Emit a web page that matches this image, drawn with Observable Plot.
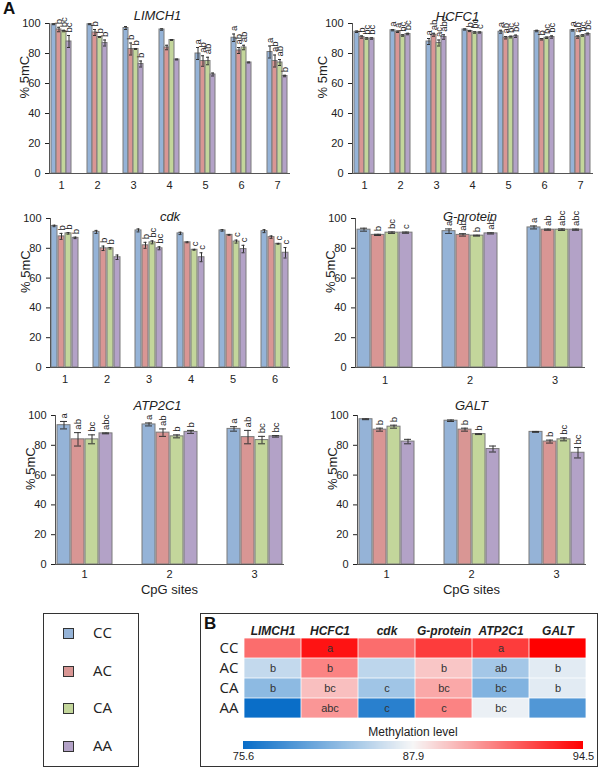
<!DOCTYPE html>
<html><head><meta charset="utf-8">
<script src="https://cdn.jsdelivr.net/npm/d3@7"></script>
<script src="https://cdn.jsdelivr.net/npm/@observablehq/plot@0.6"></script>
<style>
body{margin:0;background:#fff;font-family:"Liberation Sans",Arial,sans-serif;}
#root{position:relative;width:603px;height:769px;overflow:hidden;background:#fff;}
#root svg .tick line, #root svg .domain{display:none;}
.lab{position:absolute;color:#111;}
</style></head><body><div id="root"></div>
<script>
const genotypes = ["CC","AC","CA","AA"];
const genoColors = ["#95b3d7","#d99694","#c3d69b","#b3a2c7"];
const genes = ["LIMCH1","HCFC1","cdk","G-protein","ATP2C1","GALT"];

// LIMCH1 (7 CpG sites) values per site: CC, AC, CA, AA
const limch1Mean = [[99.5,96,95,88],[99.5,94,91,87],[97,83,83,73],[96,84,89,76],[80,75,75,66],[90.5,82,84,74],[81,75,74,65]];
const limch1Err  = [[0.3,1.5,0.5,4],[0.3,2,0.3,2],[1,4,0.3,2],[0.5,1.5,0.3,0.3],[4,3.5,2.5,1],[2.5,2,1.5,0.3],[4,4,2,0.5]];
const limch1Sig  = [["","b","bc","bc"],["","b","b","b"],["","b","b","b"],["","","",""],["a","ab","ab",""],["a","ab","ab",""],["a","ab","ab","b"]];

const hcfc1Mean = [[94.5,91,90,90],[95.5,94.5,92,93],[88,92.5,87,91],[96,95,94,94],[94.5,90.5,91,91.5],[95,89.5,90.5,91],[95.5,91,92,93]];
const hcfc1Err  = [[0.5,0.8,0.5,0.5],[0.4,0.5,0.5,0.5],[2,1,2,1.5],[0.4,0.4,0.5,0.4],[1,0.8,0.6,0.8],[0.5,0.5,0.5,0.8],[0.5,0.8,0.5,0.6]];
const hcfc1Sig  = [["","b","bc","bc"],["a","a","bc","bc"],["a","ab","ac","abc"],["","b","bc","c"],["a","ab","bc","bc"],["","b","bc","bc"],["a","ab","bc","bc"]];

const cdkMean = [[95,88,90,87],[91,80,80,74],[92,82,84,80],[90,84,79,74],[92,89,84.5,79.5],[91.5,87.5,83,77]];
const cdkErr  = [[0.5,2,0.5,0.5],[1,1.5,0.5,1.5],[1,2,1,1],[0.8,0.3,0.3,3],[0.5,0.3,1,2.5],[1,0.8,0.3,3.5]];
const cdkSig  = [["","b","b","b"],["","b","b",""],["","b","bc","bc"],["","","c","c"],["","","c","c"],["","","c","c"]];

const gprotMean = [[92.5,89,90.5,90.5],[91.5,89,88.5,90],[94,92.5,92.5,92.5]];
const gprotErr  = [[1,0.4,0.5,0.4],[1.5,0.8,0.3,0.4],[1,0.4,0.5,0.4]];
const gprotSig  = [["","b","bc","c"],["a","ab","b","ab"],["a","ab","abc","abc"]];

const atpMean = [[93.5,84,84,88],[94,88.5,86,89],[91,85.5,83.5,86]];
const atpErr  = [[2.5,4.5,3,0.3],[1,2.5,1,1],[1.5,4.5,2.5,0.5]];
const atpSig  = [["a","ab","bc","abc"],["a","ab","b","b"],["a","ab","bc","bc"]];

const galtMean = [[97.5,90.5,92.5,82.5],[96.5,90.5,87.5,77.5],[89,82.5,84,75]];
const galtErr  = [[0.3,1,1,1.5],[0.5,1,0.3,2],[0.3,1,1,3.5]];
const galtSig  = [["","b","b",""],["","b","b",""],["","b","bc","bc"]];

// Panel B: methylation level per genotype row (CC, AC, CA, AA), per gene column
const heatValues = [
  [91.6, 94.0, 91.6, 92.9, 92.9, 94.5],
  [85.2, 91.0, 84.9, 89.2, 83.6, 86.8],
  [82.4, 89.4, 83.4, 90.0, 81.8, 86.8],
  [75.6, 90.5, 77.2, 91.0, 87.3, 79.3]
];
const heatSig = [["","a","","","a",""],["b","b","","b","ab","b"],["b","bc","c","bc","bc","b"],["","abc","c","c","bc",""]];
const heatDomain = [75.6, 87.9, 94.5];
const heatColors = ["#0a6ec8","#f7f7f7","#ff0000"];

function tidy(means, errs, sigs) {
  return means.flatMap((row, i) => row.map((v, j) => ({site: String(i + 1), geno: genotypes[j], v, e: errs[i][j], sig: sigs[i][j]})));
}

const root = document.getElementById("root");
function place(el, left, top) {
  el.style.position = "absolute"; el.style.left = left + "px"; el.style.top = top + "px";
  root.appendChild(el);
}

const FONT = "Liberation Sans, Arial, sans-serif";

function panel(o) {
  const data = tidy(o.mean, o.err, o.sig);
  return Plot.plot({
    width: o.width, height: o.height,
    marginTop: 23, marginLeft: o.ml, marginRight: o.mr, marginBottom: o.mb,
    style: {fontFamily: FONT, fontSize: "11px", color: "#222", background: "transparent", overflow: "visible"},
    x: {domain: genotypes, axis: null, padding: 0.1},
    y: {domain: [0, 100], ticks: [0, 20, 40, 60, 80, 100], tickSize: 4, label: null},
    fx: {axis: "bottom", paddingInner: o.pi, paddingOuter: o.po, tickSize: 0, tickPadding: o.tp, label: null},
    color: {domain: genotypes, range: genoColors},
    marks: [
      Plot.barY(data, {fx: "site", x: "geno", y: "v", fill: "geno", stroke: "#7a7a7a", strokeWidth: 1}),
      Plot.ruleX(data, {fx: "site", x: "geno", y1: d => d.v - d.e, y2: d => d.v + d.e, stroke: "#333", strokeWidth: 1}),
      Plot.tickY(data, {fx: "site", x: "geno", y: d => d.v + d.e, stroke: "#333", insetLeft: o.cap, insetRight: o.cap}),
      Plot.tickY(data, {fx: "site", x: "geno", y: d => d.v - d.e, stroke: "#333", insetLeft: o.cap, insetRight: o.cap}),
      Plot.text(data, {fx: "site", x: "geno", y: d => d.v + d.e, text: "sig", rotate: -90, textAnchor: "start", dy: -3, fontSize: 9.5, fill: "#222"}),
      Plot.frame({anchor: "bottom", facet: "super", stroke: "#555"}),
      Plot.frame({anchor: "left", facet: "super", stroke: "#555"}),
      Plot.text(["% 5mC"], {facet: "super", frameAnchor: "left", rotate: -90, dx: o.ylo, fontSize: 13, fill: "#222"}),
      Plot.text([o.title], {facet: "super", frameAnchor: "top", lineAnchor: "bottom", dx: o.tdx, dy: o.tdy, fontStyle: "italic", fontSize: 13, fill: "#222"}),
      o.xlabel ? Plot.text([o.xlabel], {facet: "super", frameAnchor: "bottom", lineAnchor: "top", dy: 20, fontSize: 13, fill: "#222"}) : null
    ]
  });
}

place(panel({title: "LIMCH1", mean: limch1Mean, err: limch1Err, sig: limch1Sig, width: 300, height: 200, ml: 40, mr: 2, mb: 27, pi: 0.34, po: 0.22, cap: 1, ylo: -25, tdx: -12, tdy: -4, tp: 8}), 0, 0);
place(panel({title: "HCFC1", mean: hcfc1Mean, err: hcfc1Err, sig: hcfc1Sig, width: 303, height: 200, ml: 48, mr: 6, mb: 27, pi: 0.32, po: 0.07, cap: 1, ylo: -30, tdx: -15, tdy: -3, tp: 8}), 300, 0);
place(panel({title: "cdk", mean: cdkMean, err: cdkErr, sig: cdkSig, width: 300, height: 199, ml: 40, mr: 2, mb: 27, pi: 0.32, po: 0.2, cap: 1.5, ylo: -25, tdx: 0, tdy: 2, tp: 8}), 0, 195);
place(panel({title: "G-protein", mean: gprotMean, err: gprotErr, sig: gprotSig, width: 303, height: 199, ml: 42, mr: 5, mb: 27, pi: 0.3, po: 0.15, cap: 3, ylo: -25, tdx: 0, tdy: 2, tp: 9}), 300, 195);
place(panel({title: "ATP2C1", mean: atpMean, err: atpErr, sig: atpSig, width: 300, height: 212, ml: 40, mr: 3, mb: 40, pi: 0.32, po: 0.17, cap: 3, ylo: -25, tdx: -12, tdy: -6, tp: 6, xlabel: "CpG sites"}), 0, 392);
place(panel({title: "GALT", mean: galtMean, err: galtErr, sig: galtSig, width: 303, height: 212, ml: 42, mr: 4, mb: 40, pi: 0.32, po: 0.17, cap: 3, ylo: -25, tdx: 0, tdy: -6, tp: 6, xlabel: "CpG sites"}), 300, 392);

// Panel letters
const A = document.createElement("div"); A.className = "lab"; A.textContent = "A";
A.style.cssText += "font:bold 17px 'Liberation Sans',Arial,sans-serif;"; place(A, 3, -1);

// Legend box
const leg = document.createElement("div");
leg.style.cssText = "width:96px;height:154px;border:1px solid #333;box-sizing:border-box;background:#fff;";
place(leg, 43, 613);
genotypes.forEach((g, i) => {
  const sw = document.createElement("div");
  sw.style.cssText = `width:9px;height:9px;border:1px solid #333;background:${genoColors[i]};`;
  place(sw, 63, 628 + i * 37.5);
  const t = document.createElement("div"); t.className = "lab"; t.textContent = g;
  t.style.cssText += "font:15px 'Open Sans',sans-serif;color:#222;";
  place(t, 93, 622 + i * 37.5);
});

// Panel B box
const boxB = document.createElement("div");
boxB.style.cssText = "width:398px;height:154px;border:1px solid #333;box-sizing:border-box;";
place(boxB, 200, 613);
const B = document.createElement("div"); B.className = "lab"; B.textContent = "B";
B.style.cssText += "font:bold 17px 'Liberation Sans',Arial,sans-serif;"; place(B, 204, 614);

const heat = genes.flatMap((g, gi) => genotypes.map((k, j) => ({gene: g, geno: k, m: heatValues[j][gi], sig: heatSig[j][gi]})));

const heatPlot = Plot.plot({
  width: 396, height: 108, marginLeft: 42, marginRight: 10, marginTop: 25, marginBottom: 3,
  style: {fontFamily: FONT, fontSize: "11px", color: "#222", background: "transparent", overflow: "visible"},
  x: {domain: genes, padding: 0, axis: null},
  y: {domain: genotypes, padding: 0, axis: null},
  color: {type: "linear", domain: heatDomain, range: heatColors, interpolate: "rgb"},
  marks: [
    Plot.cell(heat, {x: "gene", y: "geno", fill: "m", inset: 0.4}),
    Plot.text(heat, {x: "gene", y: "geno", text: "sig", fontSize: 11, fill: "#333"}),
    Plot.axisX({anchor: "top", tickSize: 0, tickPadding: 4, label: null, fontWeight: "bold", fontStyle: "italic", fontSize: 12}),
    Plot.axisY({anchor: "left", tickSize: 0, tickPadding: 5, label: null, fontSize: 15, fontFamily: "Open Sans, sans-serif"})
  ]
});
place(heatPlot, 201, 613);

const mlab = document.createElement("div"); mlab.className = "lab"; mlab.textContent = "Methylation level";
mlab.style.cssText += "font:12px 'Liberation Sans',Arial,sans-serif;color:#222;width:200px;text-align:center;";
place(mlab, 313, 725);

const ramp = Plot.legend({
  color: {type: "linear", domain: heatDomain, range: heatColors, interpolate: "rgb"},
  width: 364, height: 24, marginTop: 0, marginBottom: 16, marginLeft: 12, marginRight: 12,
  ticks: heatDomain, tickFormat: d3.format(".1f"), tickSize: 0, label: null,
  style: {fontFamily: FONT, fontSize: "11px", color: "#222", background: "transparent"}
});
place(ramp, 231, 741);
</script></body></html>
